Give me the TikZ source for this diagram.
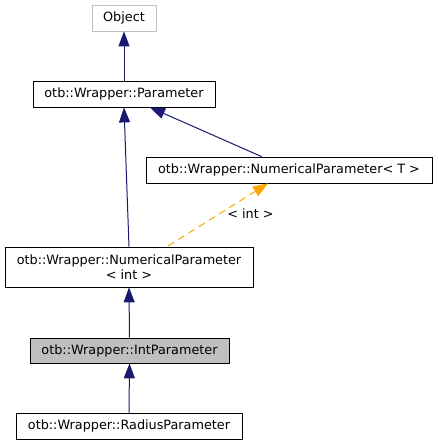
\documentclass[tikz,border=0pt]{standalone}
\usepackage{fontspec}
\setmainfont{DejaVu Sans}
\usetikzlibrary{arrows.meta}
\definecolor{edgeblue}{RGB}{25, 25, 112}
\definecolor{edgeorange}{RGB}{255, 165, 0}
\definecolor{boxgray}{RGB}{191, 191, 191}

\tikzset{
  classbox/.style={draw=black, line width=0.8pt, fill=white, inner sep=0pt, align=center, font=\fontsize{12.8}{15}\selectfont},
  inherit/.style={edgeblue, line width=1pt, {Triangle[length=15pt,width=11pt]}-},
  tmpl/.style={edgeorange, line width=1pt, dash pattern=on 7pt off 5pt, {Triangle[length=15pt,width=11pt]}-}
}

\begin{document}
\begin{tikzpicture}[x=1pt,y=-1pt]
  \useasboundingbox (0,0) rectangle (438,445);

  % Classes
  \node[classbox, draw=boxgray, minimum width=64pt, minimum height=26pt] (object) at (124,18) {Object};
  \node[classbox, minimum width=182pt, minimum height=26pt] (param) at (124,94) {otb::Wrapper::Parameter};
  \node[classbox, minimum width=286pt, minimum height=26pt] (numT) at (289,170) {otb::Wrapper::NumericalParameter< T >};
  \node[classbox, minimum width=248pt, minimum height=40pt] (numint) at (129,267) {otb::Wrapper::NumericalParameter\\< int >};
  \node[classbox, fill=boxgray, minimum width=199pt, minimum height=25pt] (intparam) at (129.5,350.5) {otb::Wrapper::IntParameter};
  \node[classbox, minimum width=226pt, minimum height=26pt] (radius) at (129,426) {otb::Wrapper::RadiusParameter};

  % Inheritance
  \draw[inherit] (object.south) -- (param.north);
  \draw[inherit] (param.south) -- (numint.north);
  \draw[inherit] ([xshift=26pt]param.south) -- ([xshift=116pt]numT.north west);
  \draw[tmpl] ([xshift=-21pt]numT.south) -- ([xshift=38pt]numint.north)
    node[pos=0.48, anchor=west, xshift=4pt, text=black, font=\fontsize{12.8}{15}\selectfont] (tlabel) {< int >};
  \draw[inherit] (numint.south) -- (intparam.north);
  \draw[inherit] (intparam.south) -- (radius.north);
\end{tikzpicture}
\end{document}
